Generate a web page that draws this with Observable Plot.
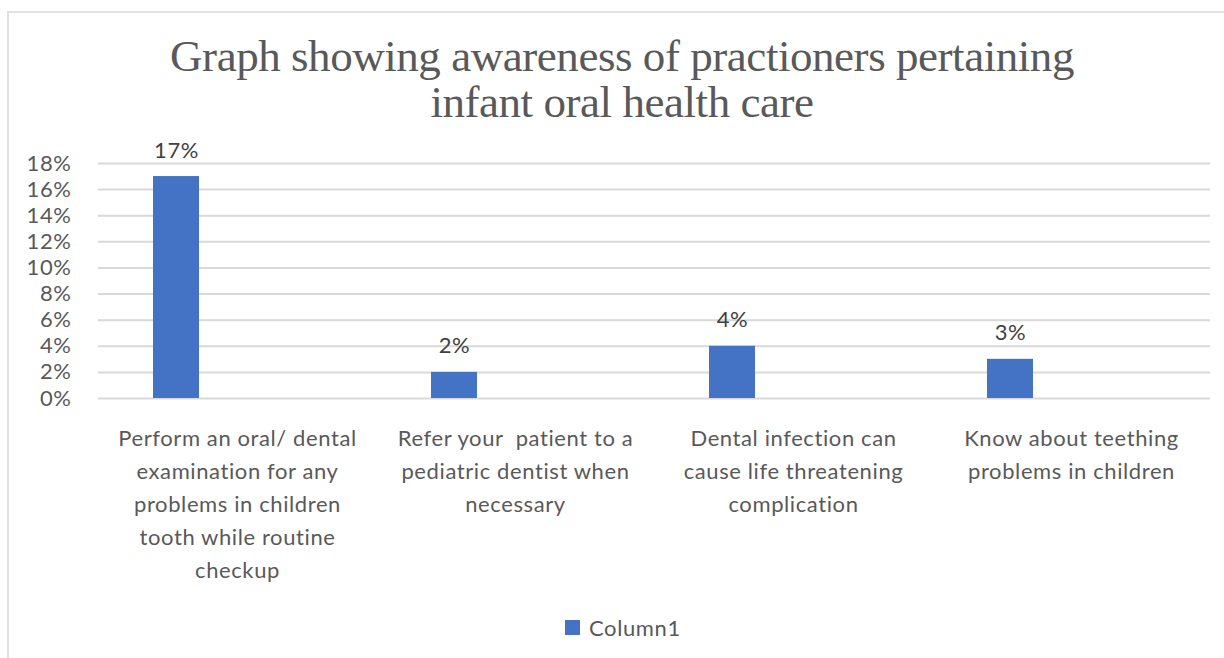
<!DOCTYPE html>
<html>
<head>
<meta charset="utf-8">
<script src="https://cdn.jsdelivr.net/npm/d3@7"></script>
<script src="https://cdn.jsdelivr.net/npm/@observablehq/plot@0.6"></script>
<style>
  html, body { margin: 0; padding: 0; background: #fff; }
  #wrap { position: relative; width: 1224px; height: 658px; overflow: hidden; background: #fff; }
  #frame { position: absolute; left: 7px; top: 11px; width: 1300px; height: 700px; border-left: 2px solid #e0e0e0; border-top: 2px solid #e0e0e0; }
  #title { position: absolute; left: 0; width: 1244px; top: 33px; text-align: center; font-family: "Liberation Serif", "DejaVu Serif", serif; font-size: 45px; line-height: 46px; color: #595959; letter-spacing: -0.45px; }
  #chart { position: absolute; left: 0; top: 125px; }
  #legend { position: absolute; top: 614px; left: 565px; font-family: Lato, "Open Sans", sans-serif; font-size: 22px; letter-spacing: 0.6px; color: #595959; display: flex; align-items: center; }
  #legend .sw { width: 15px; height: 15px; background: #4472c4; margin-right: 9px; }
  #chart svg text { letter-spacing: 0.6px; }
</style>
</head>
<body>
<div id="wrap">
  <div id="frame"></div>
  <div id="title">Graph showing awareness of practioners pertaining<br>infant oral health care</div>
  <div id="chart"></div>
  <div id="legend"><span class="sw"></span><span>Column1</span></div>
</div>
<script>
const categories = [
  "Perform an oral/ dental examination for any problems in children tooth while routine checkup",
  "Refer your patient to a pediatric dentist when necessary",
  "Dental infection can cause life threatening complication",
  "Know about teething problems in children"
];
const tickLabels = [
  "Perform an oral/ dental\nexamination for any\nproblems in children\ntooth while routine\ncheckup",
  "Refer your  patient to a\npediatric dentist when\nnecessary",
  "Dental infection can\ncause life threatening\ncomplication",
  "Know about teething\nproblems in children"
];
const values = [17, 2, 4, 3];
const yTicks = [0, 2, 4, 6, 8, 10, 12, 14, 16, 18];
const seriesName = "Column1";

const data = categories.map((c, i) => ({category: c, value: values[i], series: seriesName}));
const labelOf = new Map(categories.map((c, i) => [c, tickLabels[i]]));

const font = "Lato, 'Open Sans', sans-serif";
const chart = Plot.plot({
  width: 1224,
  height: 475,
  marginTop: 38,
  marginBottom: 202,
  marginLeft: 98,
  marginRight: 14,
  style: {fontFamily: font, fontSize: "22px", color: "#595959", background: "transparent"},
  x: {domain: categories, paddingInner: 0.8345, paddingOuter: 0.41725, label: null},
  y: {domain: [0, 18], label: null},
  marks: [
    Plot.gridY(yTicks, {stroke: "#d9d9d9", strokeOpacity: 1, strokeWidth: 2}),
    Plot.axisY(yTicks, {tickSize: 0, tickPadding: 27, tickFormat: d => d + "%", fill: "#595959", fontSize: 22, label: null}),
    Plot.axisX({tickSize: 0, tickPadding: 24, tickFormat: d => labelOf.get(d), lineHeight: 1.5, fill: "#595959", fontSize: 22, label: null}),
    Plot.barY(data, {x: "category", y: "value", fill: "#4472c4", dx: -61}),
    Plot.text(data, {x: "category", y: "value", text: d => d.value + "%", dx: -61, dy: -19, lineAnchor: "bottom", fill: "#404040", fontSize: 22})
  ]
});
document.getElementById("chart").appendChild(chart);
</script>
</body>
</html>
